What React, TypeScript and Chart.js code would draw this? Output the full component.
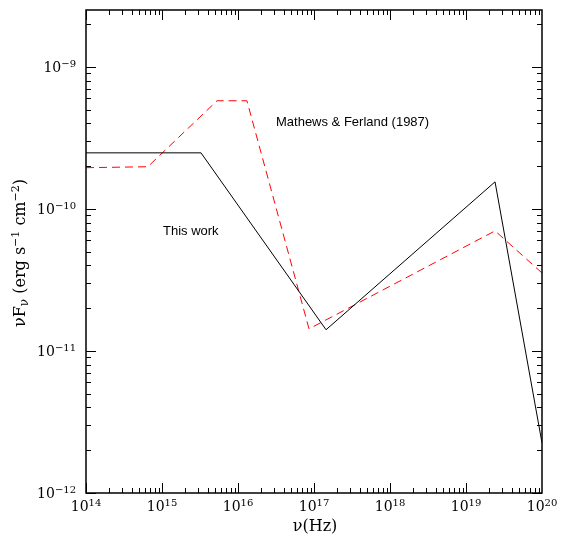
import React, { useEffect, useRef } from "react";
import { Chart, registerables } from "chart.js";

Chart.register(...registerables);

const blackX = [1e14, 3.26e15, 1.44e17, 2.41e19, 1e20];
const blackY = [2.48e-10, 2.48e-10, 1.41e-11, 1.55e-10, 2.25e-12];

const redX = [1e14, 6.5e14, 5.3e15, 1.31e16, 8.6e16, 2.41e19, 1e20];
const redY = [1.95e-10, 1.98e-10, 5.77e-10, 5.77e-10, 1.43e-11, 7.0e-11, 3.54e-11];

const xDecades = [14, 15, 16, 17, 18, 19, 20];
const yDecades = [-12, -11, -10, -9];

const X_MIN = 1e14;
const X_MAX = 1e20;
const Y_MIN = 1e-12;
const Y_MAX = Math.pow(10, -8.6);

const annotations = [
  { text: "Mathews & Ferland (1987)", x: 3.16e16, y: 4.04e-10 },
  { text: "This work", x: 1.03e15, y: 6.9e-11 },
];

const SERIF = "'DejaVu Serif', serif";
const SANS = "'Liberation Sans', Arial, sans-serif";

const toMinus = (n: number) => String(n).replace("-", "\u2212");

const framePlugin = {
  id: "framePlugin",
  afterDraw(chart: any) {
    const ctx = chart.ctx as CanvasRenderingContext2D;
    const xs = chart.scales.x;
    const ys = chart.scales.y;
    const { left, right, top, bottom } = chart.chartArea;
    ctx.save();
    ctx.strokeStyle = "#000";
    ctx.lineWidth = 1.5;
    ctx.strokeRect(left, top, right - left, bottom - top);

    ctx.lineWidth = 1;
    ctx.beginPath();
    for (let d = 14; d < 20; d++) {
      for (let m = 1; m <= 9; m++) {
        const v = m * Math.pow(10, d);
        const px = Math.round(xs.getPixelForValue(v)) + 0.5;
        const len = m === 1 ? 10 : 5;
        ctx.moveTo(px, bottom);
        ctx.lineTo(px, bottom - len);
        ctx.moveTo(px, top);
        ctx.lineTo(px, top + len);
      }
    }
    for (let d = -12; d <= -9; d++) {
      for (let m = 1; m <= 9; m++) {
        const v = m * Math.pow(10, d);
        if (v > Y_MAX) continue;
        const py = Math.round(ys.getPixelForValue(v)) + 0.5;
        const len = m === 1 ? 10 : 5;
        ctx.moveTo(left, py);
        ctx.lineTo(left + len, py);
        ctx.moveTo(right, py);
        ctx.lineTo(right - len, py);
      }
    }
    ctx.stroke();

    ctx.fillStyle = "#000";
    const baseFont = "14px " + SERIF;
    const supFont = "10px " + SERIF;
    for (const d of yDecades) {
      const py = ys.getPixelForValue(Math.pow(10, d));
      const sup = toMinus(d);
      ctx.font = supFont;
      const sw = ctx.measureText(sup).width;
      ctx.font = baseFont;
      const bw = ctx.measureText("10").width;
      const xEnd = left - 10;
      ctx.textAlign = "left";
      ctx.textBaseline = "alphabetic";
      ctx.fillText("10", xEnd - sw - bw, py + 5);
      ctx.font = supFont;
      ctx.fillText(sup, xEnd - sw, py);
    }
    for (const d of xDecades) {
      const px = xs.getPixelForValue(Math.pow(10, d));
      const sup = String(d);
      ctx.font = supFont;
      const sw = ctx.measureText(sup).width;
      ctx.font = baseFont;
      const bw = ctx.measureText("10").width;
      const x0 = px - (sw + bw) / 2;
      ctx.textAlign = "left";
      ctx.fillText("10", x0, bottom + 18);
      ctx.font = supFont;
      ctx.fillText(sup, x0 + bw, bottom + 13);
    }
    ctx.font = "16px " + SERIF;
    ctx.textAlign = "center";
    ctx.fillText("\u03bd(Hz)", (left + right) / 2 + 1, bottom + 38);

    const parts: { t: string; f: string; dy: number }[] = [
      { t: "\u03bdF", f: "16px " + SERIF, dy: 0 },
      { t: "\u03bd", f: "12px " + SERIF, dy: 3 },
      { t: " (erg s", f: "16px " + SERIF, dy: 0 },
      { t: "\u22121", f: "11px " + SERIF, dy: -6 },
      { t: " cm", f: "16px " + SERIF, dy: 0 },
      { t: "\u22122", f: "11px " + SERIF, dy: -6 },
      { t: ")", f: "16px " + SERIF, dy: 0 },
    ];
    let total = 0;
    for (const p of parts) {
      ctx.font = p.f;
      total += ctx.measureText(p.t).width;
    }
    ctx.save();
    ctx.translate(25, 253);
    ctx.rotate(-Math.PI / 2);
    ctx.textAlign = "left";
    let cx = -total / 2;
    for (const p of parts) {
      ctx.font = p.f;
      ctx.fillText(p.t, cx, p.dy);
      cx += ctx.measureText(p.t).width;
    }
    ctx.restore();

    ctx.font = "13px " + SANS;
    ctx.textAlign = "left";
    ctx.textBaseline = "middle";
    for (const a of annotations) {
      ctx.fillText(a.text, xs.getPixelForValue(a.x), ys.getPixelForValue(a.y));
    }
    ctx.restore();
  },
};

export default function App() {
  const ref = useRef<HTMLCanvasElement | null>(null);
  useEffect(() => {
    if (!ref.current) return;
    const chart = new Chart(ref.current, {
      type: "line",
      data: {
        datasets: [
          {
            label: "This work",
            data: blackX.map((x, i) => ({ x, y: blackY[i] })),
            borderColor: "#000000",
            borderWidth: 1,
            pointRadius: 0,
            fill: false,
            tension: 0,
          },
          {
            label: "Mathews & Ferland (1987)",
            data: redX.map((x, i) => ({ x, y: redY[i] })),
            borderColor: "#ff0000",
            borderWidth: 1,
            borderDash: [8, 5],
            pointRadius: 0,
            fill: false,
            tension: 0,
          },
        ],
      },
      options: {
        responsive: false,
        animation: false,
        layout: { padding: { left: 86, right: 19, top: 10, bottom: 45 } },
        plugins: {
          legend: { display: false },
          tooltip: { enabled: false },
        },
        scales: {
          x: { type: "logarithmic", min: X_MIN, max: X_MAX, display: false },
          y: { type: "logarithmic", min: Y_MIN, max: Y_MAX, display: false },
        },
      },
      plugins: [framePlugin],
    });
    return () => chart.destroy();
  }, []);
  return (
    <div style={{ position: "absolute", left: 0, top: 0, width: 561, height: 538, background: "#fff" }}>
      <canvas ref={ref} width={561} height={538} />
    </div>
  );
}
